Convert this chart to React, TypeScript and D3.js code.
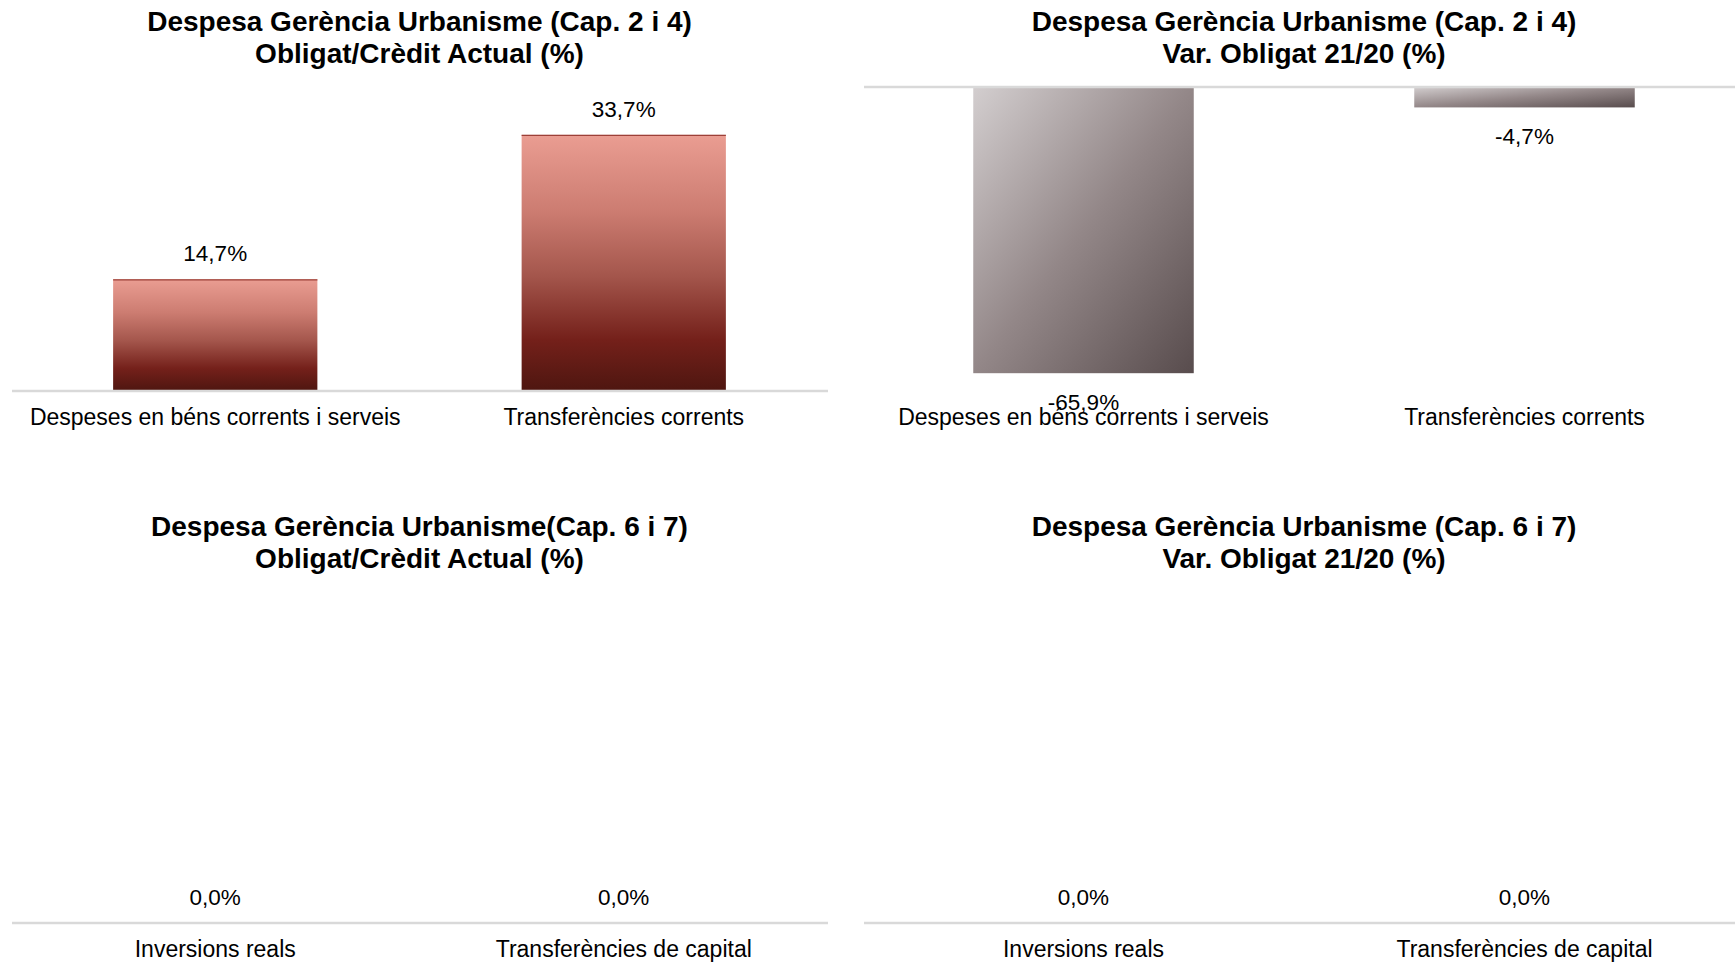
import React from "react";
import * as d3 from "d3";

const catsCurrent = ["Despeses en béns corrents i serveis", "Transferències corrents"];
const catsCapital = ["Inversions reals", "Transferències de capital"];
const obligCreditCurrent = [14.7, 33.7];
const varObligCurrent = [-65.9, -4.7];
const obligCreditCapital = [0.0, 0.0];
const varObligCapital = [0.0, 0.0];

const titleCurrentRatio = ["Despesa Gerència Urbanisme (Cap. 2 i 4)", "Obligat/Crèdit Actual (%)"];
const titleCurrentVar = ["Despesa Gerència Urbanisme (Cap. 2 i 4)", "Var. Obligat 21/20 (%)"];
const titleCapitalRatio = ["Despesa Gerència Urbanisme(Cap. 6 i 7)", "Obligat/Crèdit Actual (%)"];
const titleCapitalVar = ["Despesa Gerència Urbanisme (Cap. 6 i 7)", "Var. Obligat 21/20 (%)"];

const W = 1735;
const H = 963;
const FONT = "'Liberation Sans', Arial, sans-serif";

// plain hyphen minus and decimal comma, as in the source chart
const fmt = (v: number) => v.toFixed(1).replace(".", ",") + "%";

type PanelProps = {
  cats: string[];
  values: number[];
  title: string[];
  x0: number;
  x1: number;
  top: number;
  bottom: number;
  domain: [number, number];
  titleY: number;
  fill: string;
  axisEnd: number;
  topEdge?: boolean;
};

function Panel({ cats, values, title, x0, x1, top, bottom, domain, titleY, fill, axisEnd, topEdge }: PanelProps) {
  const x = d3.scaleBand().domain(cats).range([x0, x1]).padding(0);
  const y = d3.scaleLinear().domain(domain).range([bottom, top]);
  const bw = x.bandwidth() * 0.5;
  const zero = y(0);
  const cx = (x0 + x1) / 2;

  return (
    <g>
      {title.map((t, i) => (
        <text key={i} x={cx} y={titleY + i * 32} textAnchor="middle"
          fontFamily={FONT} fontWeight="bold" fontSize={28} fill="#000">{t}</text>
      ))}
      {values.map((v, i) => {
        const bx = x(cats[i])! + x.bandwidth() * 0.25;
        const yTop = Math.min(y(v), zero);
        const h = Math.abs(y(v) - zero);
        return (
          <g key={i}>
            {h > 0 && <rect x={bx} y={yTop} width={bw} height={h} fill={fill} />}
            {h > 0 && topEdge && v > 0 && (
              <line x1={bx} x2={bx + bw} y1={yTop + 0.5} y2={yTop + 0.5} stroke="#9c4038" strokeWidth={1.2} />
            )}
            <text x={bx + bw / 2} y={v < 0 ? y(v) + 37 : y(v) - 18} textAnchor="middle"
              fontFamily={FONT} fontSize={22.5} fill="#000">{fmt(v)}</text>
          </g>
        );
      })}
      <line x1={x0 + 1} x2={axisEnd} y1={zero} y2={zero} stroke="#d9d9d9" strokeWidth={2.5} />
      {cats.map((c) => (
        <text key={c} x={x(c)! + x.bandwidth() / 2} y={bottom + 34} textAnchor="middle"
          fontFamily={FONT} fontSize={23} fill="#000">{c}</text>
      ))}
    </g>
  );
}

export default function App() {
  return (
    <svg width={W} height={H} style={{ position: "absolute", left: 0, top: 0, background: "#fff" }}>
      <defs>
        <linearGradient id="redGrad" x1="0" y1="0" x2="0" y2="1">
          <stop offset="0" stopColor="#ea9d92" />
          <stop offset="0.3" stopColor="#cc7c71" />
          <stop offset="0.55" stopColor="#a4564c" />
          <stop offset="0.8" stopColor="#74201a" />
          <stop offset="1" stopColor="#4e1610" />
        </linearGradient>
        <linearGradient id="greyGrad" x1="0" y1="0" x2="1" y2="1">
          <stop offset="0" stopColor="#d3cecf" />
          <stop offset="0.5" stopColor="#938788" />
          <stop offset="1" stopColor="#584c4d" />
        </linearGradient>
      </defs>
      <Panel cats={catsCurrent} values={obligCreditCurrent} title={titleCurrentRatio}
        x0={11} x1={828} top={87} bottom={391} domain={[0, 40]} titleY={31}
        fill="url(#redGrad)" axisEnd={828} topEdge />
      <Panel cats={catsCurrent} values={varObligCurrent} title={titleCurrentVar}
        x0={863} x1={1745} top={87} bottom={391} domain={[-70, 0]} titleY={31}
        fill="url(#greyGrad)" axisEnd={1735} />
      <Panel cats={catsCapital} values={obligCreditCapital} title={titleCapitalRatio}
        x0={11} x1={828} top={600} bottom={923} domain={[0, 1]} titleY={536}
        fill="url(#redGrad)" axisEnd={828} topEdge />
      <Panel cats={catsCapital} values={varObligCapital} title={titleCapitalVar}
        x0={863} x1={1745} top={600} bottom={923} domain={[0, 1]} titleY={536}
        fill="url(#greyGrad)" axisEnd={1735} />
    </svg>
  );
}
